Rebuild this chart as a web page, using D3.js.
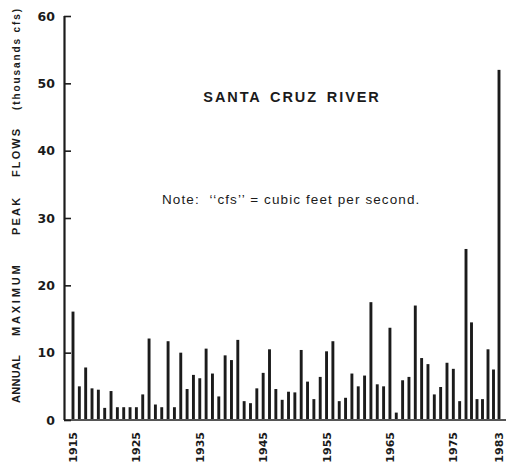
<!DOCTYPE html>
<html>
<head>
<meta charset="utf-8">
<script src="https://cdn.jsdelivr.net/npm/d3@7"></script>
<style>
  html, body { margin: 0; padding: 0; background: #ffffff; }
  svg { display: block; }
  text { fill: #1b1b1b; }
</style>
</head>
<body>
<svg id="chart" width="509" height="466"></svg>
<script>
// Annual maximum peak flows, Santa Cruz River (thousands of cfs)
const years = d3.range(1915, 1984);
const peakFlows = [
  16.1, 5.0, 7.8, 4.7, 4.5, 1.8, 4.3, 1.9, 1.9, 1.9,
  1.9, 3.8, 12.1, 2.3, 1.9, 11.7, 1.9, 10.0, 4.6, 6.7,
  6.2, 10.6, 6.9, 3.5, 9.6, 8.9, 11.9, 2.8, 2.5, 4.7,
  7.0, 10.5, 4.6, 3.0, 4.2, 4.1, 10.4, 5.7, 3.1, 6.4,
  10.2, 11.7, 2.8, 3.3, 6.9, 5.0, 6.6, 17.5, 5.3, 5.0,
  13.7, 1.1, 5.9, 6.4, 17.0, 9.2, 8.3, 3.8, 4.9, 8.5,
  7.6, 2.8, 25.4, 14.5, 3.1, 3.1, 10.5, 7.5, 52.0
];
const yearTicks = [1915, 1925, 1935, 1945, 1955, 1965, 1975, 1983];
const flowTicks = [0, 10, 20, 30, 40, 50, 60];
const yTitleWords = ["ANNUAL", "MAXIMUM", "PEAK", "FLOWS", "(thousands cfs)"];

const data = years.map((y, i) => ({ year: y, flow: peakFlows[i] }));

const svg = d3.select("#chart");
const W = 509, H = 466;
const margin = { left: 64, right: 4, top: 16, bottom: 46 };

// the last few years are drawn a little closer together
const x = d3.scaleLinear()
  .domain([1915, 1977, 1983])
  .range([73, 466, 499]);

const y = d3.scaleLinear()
  .domain([0, 60])
  .range([H - margin.bottom, margin.top]);

const ink = "#1b1b1b";
const barW = 2.9;

// bars
svg.append("g")
  .selectAll("rect")
  .data(data)
  .join("rect")
  .attr("x", d => x(d.year) - barW / 2)
  .attr("y", d => y(d.flow))
  .attr("width", barW)
  .attr("height", d => y(0) - y(d.flow))
  .attr("fill", ink);

// baseline
svg.append("line")
  .attr("x1", margin.left).attr("x2", W - 3)
  .attr("y1", y(0)).attr("y2", y(0))
  .attr("stroke", "#555").attr("stroke-width", 2);

// y axis with inward ticks
const yAxis = d3.axisRight(y)
  .tickValues(flowTicks)
  .tickSize(7)
  .tickFormat("");
const yg = svg.append("g")
  .attr("transform", `translate(${margin.left},0)`)
  .call(yAxis);
yg.select(".domain").attr("stroke", ink).attr("stroke-width", 2.2)
  .attr("d", `M0.5,${y(60)}V${y(0)}`);
yg.selectAll(".tick line").attr("stroke", ink).attr("stroke-width", 1.6);

// y tick labels
svg.append("g")
  .selectAll("text")
  .data(flowTicks)
  .join("text")
  .attr("x", 55)
  .attr("y", d => y(d))
  .attr("dy", "0.36em")
  .attr("text-anchor", "end")
  .attr("font-family", "'DejaVu Sans', sans-serif")
  .attr("font-weight", "bold")
  .attr("font-size", 12.5)
  .text(d => d);

// x tick labels, rotated
svg.append("g")
  .selectAll("text")
  .data(yearTicks)
  .join("text")
  .attr("transform", d => `translate(${x(d) + 4},432) rotate(-90)`)
  .attr("text-anchor", "end")
  .attr("font-family", "'DejaVu Sans', sans-serif")
  .attr("font-weight", "bold")
  .attr("font-size", 11)
  .text(d => d);

// y axis title, set word by word along the axis
const titleLayout = [
  { start: 0, spacing: 0.3, size: 11 },
  { start: 67, spacing: 2.8, size: 11 },
  { start: 168, spacing: 2.2, size: 11 },
  { start: 226, spacing: 2.1, size: 11 },
  { start: 293, spacing: 1.9, size: 10 }
];
svg.append("g")
  .attr("transform", "translate(19.5,403) rotate(-90)")
  .selectAll("text")
  .data(yTitleWords)
  .join("text")
  .attr("x", (d, i) => titleLayout[i].start)
  .attr("letter-spacing", (d, i) => titleLayout[i].spacing)
  .attr("font-family", "'Liberation Sans', Arial, sans-serif")
  .attr("font-weight", "bold")
  .attr("font-size", (d, i) => titleLayout[i].size)
  .text(d => d);

// chart title
svg.append("text")
  .attr("x", 292)
  .attr("y", 102)
  .attr("text-anchor", "middle")
  .attr("font-family", "'Liberation Sans', Arial, sans-serif")
  .attr("font-weight", "bold")
  .attr("font-size", 14.5)
  .attr("letter-spacing", 1.9)
  .attr("word-spacing", 3)
  .text("SANTA CRUZ RIVER");

// note
svg.append("text")
  .attr("x", 162)
  .attr("y", 204)
  .attr("font-family", "'Liberation Sans', Arial, sans-serif")
  .attr("font-size", 13.5)
  .attr("letter-spacing", 1.1)
  .attr("xml:space", "preserve")
  .text("Note:  \u2018\u2018cfs\u2019\u2019 = cubic feet per second.");
</script>
</body>
</html>
